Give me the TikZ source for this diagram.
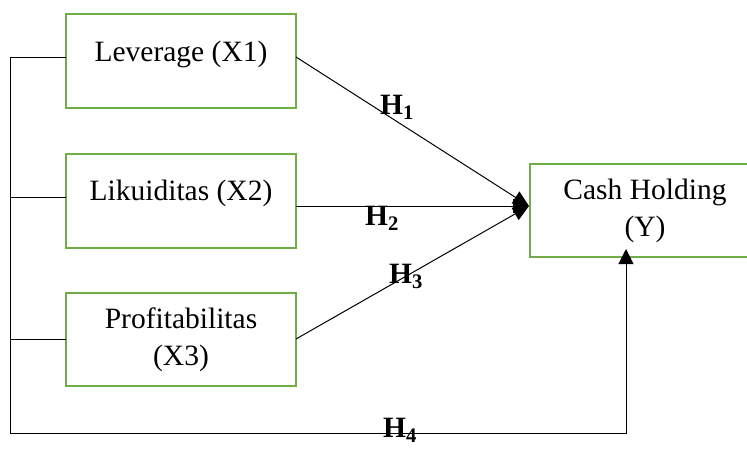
\documentclass[tikz,border=0pt]{standalone}
\usepackage{fontspec}
\setmainfont{Liberation Serif}
\usetikzlibrary{arrows.meta}
\definecolor{boxgreen}{RGB}{112,173,71}
\begin{document}
\begin{tikzpicture}[x=1pt,y=-1pt,
  varbox/.style={draw=boxgreen, line width=2.5pt, minimum width=230pt, minimum height=94pt, inner sep=0pt, outer sep=0pt, align=center, font=\fontsize{29.5}{37}\selectfont},
  lbl/.style={font=\fontsize{29.5}{37}\selectfont, inner sep=0pt, anchor=base},
  hyp/.style={font=\fontsize{29.5}{37}\selectfont\bfseries, inner sep=0pt, anchor=base west},
  conn/.style={line width=1pt, draw=black},
  tipd/.style={-{Triangle[length=16pt,width=14pt]}}
]
\useasboundingbox (0,0) rectangle (747,448);

\node[varbox] (b1) at (181,61) {};
\node[lbl] (t1) at (181,61) {Leverage (X1)};
\node[varbox] (b2) at (181,201) {};
\node[lbl] (t2) at (181,200) {Likuiditas (X2)};
\node[varbox, minimum height=93pt] (b3) at (181,339.5) {Profitabilitas\\(X3)};
\node[varbox, minimum height=93pt] (b4) at (645,210.5) {Cash Holding\\(Y)};

\coordinate (p1w) at (66,57);
\coordinate (p2w) at (66,197);
\coordinate (p3w) at (66,339);
\coordinate (p1e) at (296,57);
\coordinate (p2e) at (296,206);
\coordinate (p3e) at (296,339);
\coordinate (tgt) at (529,206);
\coordinate (c1) at (10,57);
\coordinate (c2) at (10,197);
\coordinate (c3) at (10,339);
\coordinate (c4) at (10,433);
\coordinate (c5) at (626,433);
\coordinate (tgt4) at (626,249);

\draw[conn, -{Triangle[length=15pt,width=15pt]}] (p1w) -- (c1) -- (c4) -- (c5) -- (tgt4);
\draw[conn] (c2) -- (p2w);
\draw[conn] (c3) -- (p3w);

\draw[conn, tipd] (p1e) -- (tgt);
\draw[conn, tipd] (p2e) -- (tgt);
\draw[conn, tipd] (p3e) -- (tgt);

\node[hyp] (h1) at (380,114) {H\textsubscript{1}};
\node[hyp] (h2) at (365,225) {H\textsubscript{2}};
\node[hyp] (h3) at (389,283) {H\textsubscript{3}};
\node[hyp] (h4) at (383,437) {H\textsubscript{4}};
\end{tikzpicture}
\end{document}
